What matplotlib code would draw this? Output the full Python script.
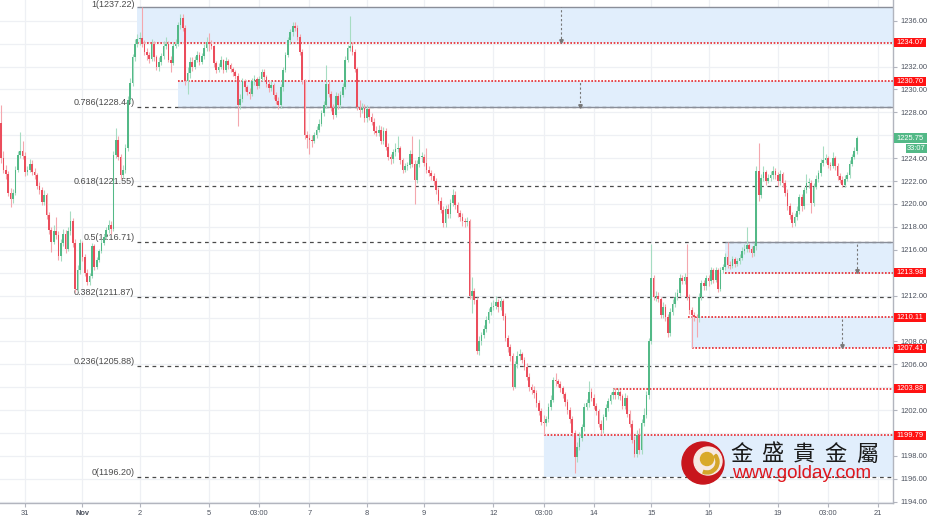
import matplotlib
matplotlib.use('Agg')
import matplotlib.pyplot as plt
from matplotlib.patches import Rectangle, Circle, Wedge
import numpy as np

# 1H gold candles, Oct 30 14:00 .. Nov 20
first_open = 1227.1
closes = [
    # Oct 30
    1224.0, 1223.0, 1222.6, 1221.0, 1220.4, 1221.0, 1223.0, 1224.3, 1224.6, 1224.2,
    # Oct 31
    1222.8, 1223.0, 1223.5, 1222.8, 1222.5, 1221.6, 1221.2, 1220.2, 1220.8, 1219.0, 1217.7, 1216.7,
    1217.6, 1217.3, 1215.5, 1216.6, 1217.4, 1216.1, 1217.6, 1218.5, 1216.6, 1212.6, 1214.2, 1216.6,
    # Nov 1
    1215.4, 1214.0, 1213.2, 1213.7, 1216.3, 1214.5, 1215.1, 1215.9, 1216.6, 1217.1, 1217.7, 1218.2,
    1217.8, 1224.3, 1225.6, 1224.1, 1222.5, 1223.0, 1224.9, 1229.1, 1230.6, 1232.8, 1234.0, 1234.4,
    # Nov 2
    1234.5, 1234.0, 1233.3, 1233.0, 1232.7, 1234.0, 1232.8, 1232.0, 1232.4, 1232.9, 1233.8, 1234.0,
    1232.6, 1232.3, 1233.8, 1234.0, 1235.6, 1236.2, 1235.4, 1230.7, 1231.4, 1232.4, 1232.0, 1232.6,
    1233.0, 1232.4, 1232.9, 1233.6, 1234.1,
    # Nov 5
    1234.0, 1233.8, 1232.3, 1231.7, 1232.0, 1232.6, 1231.7, 1232.5, 1232.1, 1231.8, 1231.5, 1231.2,
    1228.6, 1229.2, 1230.7, 1230.2, 1229.8, 1229.6,
    # Nov 6
    1230.7, 1230.9, 1230.3, 1230.9, 1231.5, 1231.1, 1230.5, 1230.1, 1230.4, 1229.5, 1229.0, 1228.6,
    1230.2, 1231.7, 1233.0, 1234.3, 1235.0, 1235.5, 1235.4, 1234.6, 1233.3, 1230.8, 1226.0, 1225.8,
    # Nov 7
    1225.6, 1225.5, 1226.0, 1226.5, 1227.0, 1227.9, 1228.6, 1230.5, 1229.6, 1228.4, 1227.8, 1229.4,
    1228.6, 1229.5, 1230.2, 1232.6, 1233.6, 1233.8, 1233.3, 1231.8, 1228.5, 1228.2, 1228.4, 1227.5,
    # Nov 8
    1228.3, 1227.6, 1227.2, 1226.4, 1226.2, 1226.5, 1225.5, 1226.4, 1225.0, 1224.1, 1223.9, 1224.5,
    1224.8, 1224.9, 1223.8, 1223.0, 1223.3, 1223.4, 1224.4, 1223.5, 1222.1, 1223.5, 1224.1, 1224.1,
    # Nov 9
    1223.6, 1223.0, 1222.7, 1222.4, 1222.0, 1221.2, 1220.3, 1219.5, 1218.3, 1219.6, 1219.1, 1220.1,
    1220.8, 1219.9, 1219.2, 1218.9, 1218.5, 1218.4, 1218.5, 1212.0, 1212.4, 1211.6, 1207.2, 1208.0,
    1208.6, 1209.1, 1209.9, 1210.6, 1211.0,
    # Nov 12
    1211.1, 1211.4, 1211.0, 1211.5, 1210.2, 1208.3, 1207.5, 1206.7, 1204.0, 1206.0, 1206.7, 1206.9,
    1206.4, 1205.8, 1204.9, 1204.0, 1203.8, 1203.5,
    # Nov 13
    1202.6, 1201.9, 1201.0, 1200.9, 1201.2, 1202.3, 1202.9, 1204.6, 1204.5, 1204.3, 1203.9, 1203.4,
    1202.7, 1202.0, 1201.2, 1200.0, 1197.9, 1198.8, 1199.6, 1200.5, 1202.3, 1202.6, 1203.6, 1203.1,
    # Nov 14
    1202.4, 1201.9, 1200.8, 1200.3, 1201.4, 1202.2, 1202.8, 1203.3, 1203.6, 1203.3, 1203.6, 1203.2,
    1202.4, 1203.1, 1201.7, 1200.8, 1199.4, 1198.2, 1199.8, 1198.5, 1200.9, 1201.6, 1203.3, 1208.0,
    # Nov 15
    1213.5, 1211.9, 1212.0, 1211.7, 1210.3, 1211.0, 1210.1, 1208.7, 1210.6, 1211.3, 1211.9, 1212.2,
    1213.5, 1213.3, 1213.6, 1211.9, 1210.7, 1210.3, 1210.1, 1210.0, 1211.9, 1213.1, 1212.8, 1213.5,
    # Nov 16
    1213.3, 1214.2, 1213.4, 1214.2, 1212.6, 1214.2, 1214.5, 1215.4, 1214.7, 1214.6, 1215.2, 1214.8,
    1215.0, 1215.3, 1215.9, 1216.1, 1216.4, 1216.1, 1215.7, 1216.3, 1222.9, 1220.8, 1222.3, 1222.8,
    1222.0, 1222.3, 1222.5, 1222.9, 1222.5,
    # Nov 19
    1222.0, 1222.6, 1221.8, 1221.0, 1219.8, 1219.0, 1218.3, 1218.9, 1219.4, 1220.6, 1219.8, 1221.2,
    1221.8, 1221.8, 1220.1, 1221.5, 1222.2, 1222.7,
    # Nov 20
    1223.6, 1223.8, 1224.0, 1223.4, 1223.3, 1224.0, 1223.3, 1222.4, 1222.1, 1221.7, 1222.2, 1222.5,
    1223.5, 1224.1, 1224.6, 1225.75,
]
highs = [
    1228.6, 1224.6, 1223.4, 1222.9, 1221.4, 1221.3, 1223.3, 1224.6, 1226.3, 1225.5,
    1224.5, 1223.3, 1223.9, 1223.8, 1223.1, 1222.7, 1221.9, 1221.5, 1221.2, 1221.0, 1219.3, 1218.0,
    1218.2, 1218.9, 1217.6, 1216.9, 1217.8, 1217.7, 1218.0, 1219.4, 1218.8, 1216.9, 1214.7, 1216.9,
    1216.8, 1215.6, 1214.3, 1214.0, 1216.6, 1216.5, 1215.4, 1216.1, 1216.9, 1217.4, 1218.0, 1218.6,
    1218.5, 1224.6, 1226.6, 1225.9, 1224.4, 1223.4, 1225.2, 1229.4, 1231.0, 1233.1, 1234.4, 1234.8,
    1235.0, 1237.2, 1234.3, 1233.6, 1233.3, 1234.4, 1234.2, 1233.0, 1232.8, 1233.2, 1234.2, 1234.6,
    1234.2, 1232.9, 1234.1, 1234.4, 1235.9, 1236.6, 1236.6, 1235.6, 1232.0, 1232.8, 1232.8, 1232.9,
    1233.4, 1233.3, 1233.2, 1234.0, 1234.6,
    1234.9, 1234.3, 1233.9, 1232.5, 1232.3, 1232.9, 1232.7, 1232.8, 1232.7, 1232.3, 1232.0, 1231.7,
    1231.4, 1229.6, 1231.0, 1230.9, 1230.4, 1230.1,
    1231.0, 1231.3, 1231.1, 1231.2, 1231.8, 1231.8, 1231.3, 1230.8, 1230.7, 1230.6, 1229.8, 1229.3,
    1230.5, 1232.0, 1233.3, 1234.6, 1235.3, 1235.9, 1235.9, 1235.6, 1234.8, 1233.5, 1230.9, 1226.4,
    1226.1, 1226.0, 1226.3, 1226.8, 1227.4, 1228.2, 1229.0, 1232.1, 1230.8, 1229.9, 1228.7, 1229.8,
    1229.7, 1229.9, 1230.6, 1232.9, 1233.9, 1236.4, 1234.1, 1233.5, 1232.0, 1229.1, 1228.8, 1228.7,
    1228.6, 1228.5, 1227.9, 1227.5, 1226.8, 1226.9, 1226.8, 1226.7, 1226.6, 1225.3, 1224.4, 1224.8,
    1225.3, 1225.9, 1225.1, 1224.0, 1223.6, 1223.7, 1224.7, 1225.9, 1223.8, 1223.8, 1225.7, 1224.5,
    1224.4, 1224.9, 1223.3, 1223.0, 1222.7, 1222.3, 1221.5, 1220.6, 1219.8, 1219.9, 1220.0, 1220.4,
    1221.3, 1221.1, 1220.2, 1219.5, 1219.2, 1218.8, 1218.9, 1218.7, 1213.6, 1212.7, 1211.9, 1208.5,
    1208.8, 1209.4, 1210.2, 1210.9, 1211.4,
    1211.6, 1212.0, 1211.7, 1211.8, 1211.7, 1210.5, 1208.6, 1207.8, 1207.0, 1206.3, 1207.2, 1207.3,
    1207.1, 1206.6, 1206.1, 1205.2, 1204.3, 1204.1,
    1203.8, 1202.9, 1202.2, 1201.6, 1201.5, 1202.6, 1203.3, 1204.9, 1205.2, 1204.7, 1204.5, 1204.1,
    1203.6, 1203.0, 1202.3, 1201.5, 1200.3, 1199.2, 1200.1, 1200.8, 1202.6, 1203.0, 1204.5, 1203.9,
    1203.4, 1202.6, 1202.1, 1201.1, 1201.7, 1202.5, 1203.1, 1203.6, 1203.9, 1203.9, 1203.9, 1203.8,
    1203.4, 1203.5, 1203.3, 1202.0, 1201.1, 1199.7, 1200.3, 1200.4, 1201.2, 1202.2, 1203.7, 1208.3,
    1216.5, 1213.8, 1212.4, 1212.3, 1211.9, 1211.4, 1211.3, 1210.4, 1210.9, 1211.7, 1212.3, 1212.6,
    1213.9, 1213.8, 1214.0, 1216.5, 1212.1, 1211.0, 1210.6, 1210.4, 1212.2, 1213.4, 1213.4, 1213.8,
    1213.8, 1214.5, 1214.4, 1214.5, 1214.4, 1214.5, 1214.8, 1215.7, 1216.7, 1215.0, 1215.5, 1215.4,
    1215.3, 1215.6, 1216.2, 1216.5, 1218.0, 1216.6, 1216.3, 1216.6, 1223.3, 1225.3, 1222.6, 1223.3,
    1223.0, 1222.6, 1222.9, 1223.3, 1223.1,
    1222.8, 1223.0, 1222.8, 1222.1, 1221.3, 1220.1, 1219.3, 1219.2, 1219.8, 1220.9, 1220.9, 1221.5,
    1222.6, 1222.3, 1222.1, 1221.8, 1222.5, 1223.0,
    1223.9, 1225.1, 1224.4, 1224.2, 1223.7, 1224.5, 1224.2, 1223.6, 1222.7, 1222.4, 1222.5, 1222.8,
    1223.8, 1224.4, 1225.0, 1225.9,
]
lows = [
    1223.6, 1222.7, 1222.2, 1220.7, 1219.7, 1220.1, 1220.8, 1222.8, 1224.0, 1223.9,
    1222.4, 1222.5, 1222.8, 1222.5, 1222.2, 1221.3, 1220.9, 1219.9, 1219.9, 1218.7, 1217.4, 1215.8,
    1216.5, 1216.9, 1215.1, 1215.0, 1216.3, 1215.7, 1215.9, 1217.3, 1216.2, 1212.3, 1212.4, 1213.9,
    1215.0, 1213.7, 1212.9, 1212.9, 1213.5, 1214.2, 1214.3, 1214.9, 1215.7, 1216.4, 1216.9, 1217.5,
    1217.4, 1217.6, 1224.0, 1223.8, 1222.2, 1222.3, 1222.7, 1224.6, 1228.8, 1230.3, 1232.5, 1233.7,
    1233.9, 1233.7, 1233.0, 1232.6, 1232.3, 1232.5, 1232.5, 1231.7, 1231.6, 1232.1, 1232.7, 1233.5,
    1232.4, 1231.5, 1232.1, 1233.6, 1233.8, 1235.3, 1235.1, 1230.4, 1229.6, 1231.0, 1231.6, 1231.8,
    1232.4, 1232.1, 1232.2, 1232.7, 1233.4,
    1233.4, 1233.5, 1232.0, 1231.4, 1231.5, 1231.8, 1231.4, 1231.5, 1231.8, 1231.5, 1231.2, 1230.9,
    1226.8, 1228.3, 1228.9, 1229.9, 1229.5, 1229.2,
    1229.4, 1230.4, 1230.0, 1230.1, 1230.7, 1230.8, 1230.2, 1229.8, 1229.9, 1229.2, 1228.7, 1228.3,
    1228.4, 1229.9, 1231.5, 1232.8, 1234.0, 1234.7, 1235.1, 1234.3, 1233.0, 1230.5, 1225.7, 1224.9,
    1224.4, 1225.0, 1225.3, 1225.8, 1226.3, 1226.8, 1227.7, 1228.4, 1229.3, 1228.1, 1227.4, 1227.6,
    1228.3, 1228.4, 1229.3, 1230.0, 1232.4, 1233.4, 1233.0, 1231.5, 1228.2, 1227.6, 1227.9, 1227.2,
    1227.2, 1227.3, 1226.9, 1226.1, 1225.9, 1225.9, 1225.2, 1225.2, 1224.7, 1223.8, 1223.5, 1223.6,
    1224.2, 1224.5, 1223.5, 1222.7, 1222.8, 1223.0, 1223.1, 1223.2, 1220.0, 1221.8, 1223.2, 1223.7,
    1223.3, 1222.7, 1222.4, 1222.1, 1221.7, 1220.9, 1220.0, 1219.2, 1218.0, 1218.0, 1218.8, 1218.8,
    1219.8, 1219.6, 1218.9, 1218.5, 1218.1, 1218.0, 1218.1, 1211.7, 1210.5, 1211.3, 1206.9, 1206.8,
    1207.7, 1208.3, 1208.8, 1209.6, 1210.3,
    1210.7, 1210.8, 1210.6, 1210.7, 1209.9, 1208.0, 1207.1, 1206.3, 1203.8, 1203.9, 1205.7, 1206.4,
    1206.1, 1205.5, 1204.6, 1203.7, 1203.4, 1203.1,
    1202.3, 1201.6, 1200.7, 1199.8, 1200.6, 1201.0, 1202.0, 1202.7, 1204.1, 1204.0, 1203.6, 1203.1,
    1202.4, 1201.7, 1200.9, 1199.7, 1196.5, 1197.5, 1198.5, 1199.3, 1200.2, 1202.0, 1202.3, 1202.8,
    1202.1, 1201.6, 1200.5, 1199.9, 1200.0, 1201.1, 1201.9, 1202.5, 1203.0, 1203.0, 1203.0, 1202.9,
    1202.1, 1202.1, 1201.4, 1200.5, 1199.1, 1197.9, 1197.9, 1198.2, 1198.2, 1200.6, 1201.3, 1203.0,
    1207.8, 1211.6, 1211.5, 1211.4, 1210.0, 1210.0, 1209.8, 1208.4, 1208.5, 1210.3, 1211.0, 1211.6,
    1212.0, 1213.0, 1213.0, 1211.6, 1210.4, 1207.4, 1209.8, 1208.4, 1209.7, 1211.6, 1212.5, 1212.5,
    1212.8, 1213.0, 1213.1, 1213.2, 1212.3, 1212.4, 1214.0, 1214.2, 1214.4, 1214.3, 1214.4, 1214.5,
    1214.6, 1214.8, 1215.1, 1215.6, 1215.8, 1215.8, 1215.4, 1215.5, 1216.0, 1220.3, 1220.5, 1222.0,
    1221.7, 1221.8, 1222.0, 1222.2, 1222.2,
    1221.6, 1221.7, 1221.5, 1220.7, 1219.5, 1218.7, 1218.0, 1218.1, 1218.6, 1219.1, 1219.4, 1219.6,
    1221.0, 1221.4, 1219.2, 1219.8, 1221.3, 1221.9,
    1222.4, 1223.3, 1223.6, 1223.1, 1223.0, 1223.1, 1223.0, 1222.1, 1221.8, 1221.5, 1221.5, 1222.0,
    1222.3, 1223.3, 1223.9, 1224.4,
]

# Fibonacci retracement
fib_ratios = ['1', '0.786', '0.618', '0.5', '0.382', '0.236', '0']
fib_prices = [1237.22, 1228.44, 1221.55, 1216.71, 1211.87, 1205.88, 1196.20]

# red horizontal levels (price, first bar)
red_levels = [1234.07, 1230.70, 1213.98, 1210.11, 1207.41, 1203.88, 1199.79]
red_starts = [57, 74, 303, 287.5, 289, 256, 227]

# blue boxes (first bar, top, bottom)
box_starts = [57, 74, 303, 288.5, 227]
box_tops = [1237.22, 1230.70, 1216.71, 1210.11, 1199.79]
box_bottoms = [1234.07, 1228.44, 1213.98, 1207.41, 1196.20]

# price scale labels (the ones covered by badges are left out)
price_ticks = [1194, 1196, 1198, 1202, 1206, 1208, 1212, 1216, 1218, 1220, 1222, 1224,
               1228, 1230, 1232, 1236]

# x axis
tick_bars = [10, 34, 58, 87, 108, 129, 153, 177, 206, 227, 248, 272, 296, 325, 346, 367]
tick_text = ['31', 'Nov', '2', '5', '03:00', '7', '8', '9', '12', '03:00', '14', '15', '16',
             '19', '03:00', '21']

last_price = 1225.75
countdown = '33:07'

brand_chars = ['金', '盛', '貴', '金', '屬']
brand_url = 'www.golday.com'

GREEN = '#53b987'
RED = '#eb4d5c'
GRID = '#eef0f4'
TXT = '#4c525e'
BLUE = '#e1eefc'

W, H = 927, 518
plt.rcParams['font.family'] = ['Liberation Sans', 'DejaVu Sans']

fig = plt.figure(figsize=(W / 100, H / 100), dpi=100, facecolor='white')
ax = fig.add_axes([0, 15 / H, 893 / W, 503 / H])
XMAX = 373.2
YTOP = 1237.81
ax.set_xlim(-0.46, XMAX)
ax.set_ylim(1193.89, YTOP)
ax.set_facecolor('white')

# grid
for p in np.arange(1194, 1239, 2):
    ax.axhline(p, color=GRID, lw=0.9, zorder=0)
for t in tick_bars:
    ax.axvline(t, color=GRID, lw=0.9, zorder=0)

# blue boxes
for x0, top, bot in zip(box_starts, box_tops, box_bottoms):
    ax.add_patch(Rectangle((x0, bot), XMAX - x0, top - bot, facecolor=BLUE,
                           edgecolor='none', zorder=1))

# fib lines + labels
for r, p in zip(fib_ratios, fib_prices):
    if r == '1':
        ax.hlines(p, 57, XMAX, colors='#8a8e99', lw=1.0, zorder=2)
        ax.text(55.8, YTOP - 0.02, f'{r}({p:.2f})', ha='right', va='top', fontsize=6.5,
                color='#4a4a4a', zorder=2)
    else:
        ax.hlines(p, 57, XMAX, colors='#4a4a4a', lw=0.9, linestyles=(0, (3, 3)), zorder=2)
        ax.text(55.8, p, f'{r}({p:.2f})', ha='right', va='bottom', fontsize=6.5,
                color='#4a4a4a', zorder=2)

# solid grey box borders
ax.hlines(1228.44, 74, XMAX, colors='#8a8e99', lw=1.0, zorder=2)
ax.hlines(1216.71, 303, XMAX, colors='#8a8e99', lw=1.0, zorder=2)

# red dotted levels
for p, x0 in zip(red_levels, red_starts):
    ax.hlines(p, x0, XMAX, colors='#e8262b', lw=1.2, linestyles=(0, (1, 1)), zorder=2.5)

# measure arrows
for xb, y0, y1 in [(234.3, 1237.22, 1234.07), (242.2, 1230.70, 1228.44),
                   (358.1, 1216.71, 1213.98), (351.9, 1210.11, 1207.41)]:
    ax.vlines(xb, y1, y0, colors='#777777', lw=0.8, linestyles=(0, (2, 2)), zorder=2.5)
    ax.plot([xb], [y1 + 0.15], marker='v', ms=2.5, color='#777777', zorder=2.5)

# candles
c = np.array(closes)
h = np.array(highs)
l = np.array(lows)
o = np.concatenate([[first_open], c[:-1]])
idx = np.arange(len(c))
up = c >= o
for mask, col, wcol in [(up, GREEN, '#a6dcc2'), (~up, RED, '#f4a7ae')]:
    ax.vlines(idx[mask], l[mask], h[mask], colors=wcol, lw=0.8, zorder=3)
    bottom = np.minimum(o, c)[mask]
    height = np.maximum(np.abs(c - o)[mask], 0.08)
    ax.bar(idx[mask], height, bottom=bottom, width=0.7, color=col, linewidth=0, zorder=4)

# axes styling
for s in ['top', 'left']:
    ax.spines[s].set_visible(False)
for s in ['right', 'bottom']:
    ax.spines[s].set_color('#b2b5be')
    ax.spines[s].set_linewidth(1)
ax.yaxis.tick_right()
ax.set_yticks(price_ticks)
ax.set_yticklabels([f'{v:.2f}' for v in price_ticks])
ax.tick_params(axis='y', length=3, width=0.8, pad=2, labelsize=5.4, colors='#b2b5be',
               labelcolor=TXT)
ax.set_xticks(tick_bars)
ax.set_xticklabels(tick_text)
ax.tick_params(axis='x', length=3, width=0.8, pad=2, labelsize=5.4, colors='#b2b5be',
               labelcolor=TXT)
for lab in ax.get_xticklabels():
    if lab.get_text() == 'Nov':
        lab.set_fontweight('bold')

# price scale badges
pax = fig.add_axes([893 / W, 15 / H, 34 / W, 503 / H])
pax.set_xlim(0, 34)
pax.set_ylim(1193.89, YTOP)
pax.axis('off')
for p in red_levels:
    pax.add_patch(Rectangle((1, p - 0.39), 32, 0.78, facecolor='#ff1212', edgecolor='none'))
    pax.text(17, p, f'{p:.2f}', ha='center', va='center', color='white', fontsize=5.4)
pax.add_patch(Rectangle((1, last_price - 0.44), 33, 0.88, facecolor=GREEN, edgecolor='none'))
pax.text(17, last_price, f'{last_price:.2f}', ha='center', va='center', color='white',
         fontsize=5.4)
cy = last_price - 0.92
pax.add_patch(Rectangle((13, cy - 0.4), 21, 0.8, facecolor=GREEN, edgecolor='none'))
pax.text(23.5, cy, countdown, ha='center', va='center', color='white', fontsize=5.4)

# logo
lax = fig.add_axes([680 / W, (518 - 486) / H, 46 / W, 46 / H])
lax.set_xlim(0, 46)
lax.set_ylim(0, 46)
lax.axis('off')
lax.add_patch(Circle((23, 23), 21, color='#c8161d'))
lax.add_patch(Circle((28, 25), 14, color='#f6e9e2'))
lax.add_patch(Wedge((27, 24), 12, 250, 40, width=3, color='#d4a52a'))
lax.add_patch(Circle((27, 27), 6.5, color='#d9a928'))
for k, ch in enumerate(brand_chars):
    fig.text((741 + 31.5 * k) / W, 1 - 454 / H, ch, ha='center', va='center', fontsize=16,
             family=['Noto Sans CJK TC'], color='#1a1a1a')
fig.text(802 / W, 1 - 474 / H, brand_url, ha='center', va='center', fontsize=13.5,
         color='#e0161c')

fig.savefig('out.png', dpi=100, facecolor='white')
